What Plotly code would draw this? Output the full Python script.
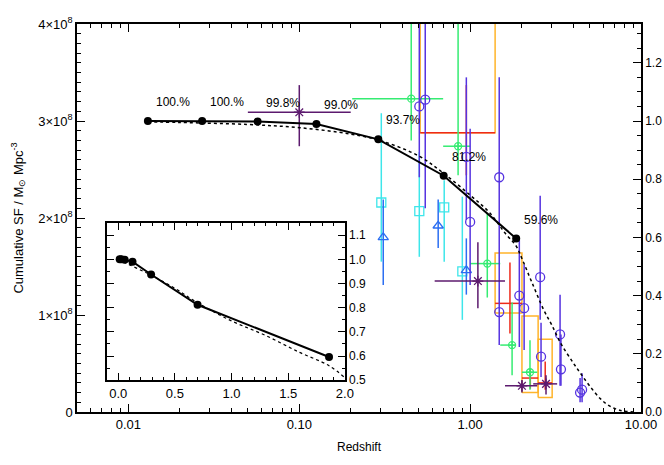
import numpy as np
import plotly.graph_objects as go

# cumulative star formation at the bin redshifts (units of 1e8 Msun / Mpc^3)
z_bin = [0.013, 0.027, 0.057, 0.126, 0.29, 0.70, 1.86]
frac_bin = [1.000, 1.000, 0.998, 0.990, 0.937, 0.812, 0.596]
pct_text = ["100.%", "100.%", "99.8%", "99.0%", "93.7%", "81.2%", "59.6%"]
sf_now = 3.0

# dotted model curve (fraction of present-day mass already formed)
model_z = [0.013, 0.02, 0.05, 0.1, 0.2, 0.3, 0.5, 0.7, 1.0, 1.3, 1.6, 1.86, 2.0,
           2.3, 2.7, 3.0, 3.4, 4.0, 4.4, 5.0, 5.8, 6.5, 7.5, 9.0]
model_frac = [0.997, 0.995, 0.988, 0.977, 0.955, 0.932, 0.88, 0.82, 0.745, 0.685, 0.615, 0.57, 0.53,
              0.445, 0.35, 0.30, 0.235, 0.17, 0.135, 0.09, 0.045, 0.022, 0.006, 0.0]
inset_model_z = [0.0, 0.013, 0.05, 0.1, 0.2, 0.3, 0.5, 0.7, 1.0, 1.3, 1.6, 1.86, 2.0]
inset_model_frac = [1.0, 0.997, 0.988, 0.977, 0.955, 0.932, 0.88, 0.82, 0.745, 0.685, 0.615, 0.56, 0.51]

# literature points: value, redshift range, value range
ast_z = [0.10, 1.11, 2.01, 2.78]
ast_v = [3.09, 1.35, 0.27, 0.29]
ast_zlo = [0.05, 0.62, 1.60, 2.34]
ast_zhi = [0.20, 1.60, 2.47, 3.23]
ast_vlo = [2.74, 1.07, 0.20, 0.18]
ast_vhi = [3.37, 1.75, 0.33, 0.38]

circ_z = [0.504, 0.546, 0.95, 1.00, 1.48, 1.48, 1.94, 2.07, 2.57, 2.60, 3.36, 3.40, 4.52, 4.40]
circ_v = [3.15, 3.22, 2.63, 1.96, 2.42, 1.03, 1.20, 1.07, 1.39, 0.57, 0.80, 0.44, 0.23, 0.20]
circ_vlo = [2.42, 2.10, 1.98, 1.31, 1.67, 0.69, 0.67, 0.64, 0.95, 0.36, 0.27, 0.27, 0.10, 0.10]
circ_vhi = [4.50, 4.50, 3.45, 2.92, 3.45, 1.67, 1.77, 1.52, 2.23, 0.92, 1.21, 0.80, 0.40, 0.35]

grn_z = [0.452, 0.85, 1.26, 1.76, 2.24]
grn_v = [3.23, 2.74, 1.53, 0.69, 0.41]
grn_zlo = [0.204, 0.695, 1.00, 1.50, 2.01]
grn_zhi = [0.695, 1.00, 1.50, 1.83, 2.47]
grn_vlo = [2.80, 2.44, 1.18, 0.38, 0.23]
grn_vhi = [4.50, 4.50, 2.05, 1.13, 0.74]

sq_z = [0.302, 0.504, 0.705, 0.90]
sq_v = [2.16, 2.07, 2.11, 1.45]
sq_vlo = [1.55, 1.60, 1.55, 0.95]
sq_vhi = [3.08, 2.68, 2.39, 2.22]

tri_z = [0.31, 0.65, 0.95]
tri_v = [1.80, 1.92, 1.46]
tri_vlo = [1.31, 1.69, 1.21]
tri_vhi = [2.19, 2.19, 1.79]

red_z = [0.95, 1.71, 2.25, 2.75]
red_v = [2.88, 1.12, 0.35, 0.30]
red_zlo = [0.51, 1.40, 2.01, 2.50]
red_zhi = [1.40, 2.01, 2.50, 3.02]
red_vlo = [2.44, 0.81, 0.24, 0.23]
red_vhi = [3.37, 1.54, 0.45, 0.52]

box_zlo = [0.51, 1.40, 2.01, 2.50]
box_zhi = [1.40, 2.01, 2.50, 3.02]
box_vlo = [2.88, 1.02, 0.20, 0.15]
box_vhi = [4.50, 1.64, 0.99, 0.75]

FONT = "Liberation Sans"


def errs(c, lo, hi):
    return dict(type="data", symmetric=False,
                array=[h - v for v, h in zip(c, hi)],
                arrayminus=[v - l for v, l in zip(c, lo)])


fig = go.Figure()

# orange boxes
bx, by = [], []
for zl, zh, vl, vh in zip(box_zlo, box_zhi, box_vlo, box_vhi):
    bx += [zl, zh, zh, zl, zl, None]
    by += [vl, vl, vh, vh, vl, None]
fig.add_trace(go.Scatter(x=bx, y=by, mode="lines", line=dict(color="#ffb42a", width=1.5)))

fig.add_trace(go.Scatter(x=red_z, y=red_v, mode="markers", marker=dict(size=1, color="#ee2a1a"),
                         error_x=dict(errs(red_z, red_zlo, red_zhi), color="#ee2a1a", thickness=1.5, width=0),
                         error_y=dict(errs(red_v, red_vlo, red_vhi), color="#ee2a1a", thickness=1.5, width=0)))

fig.add_trace(go.Scatter(x=sq_z, y=sq_v, mode="markers",
                         marker=dict(symbol="square-open", size=9, color="#3ee6ea", line=dict(width=1.3)),
                         error_y=dict(errs(sq_v, sq_vlo, sq_vhi), color="#3ee6ea", thickness=1.5, width=0)))

fig.add_trace(go.Scatter(x=tri_z, y=tri_v, mode="markers",
                         marker=dict(symbol="triangle-up-open", size=9, color="#2b6ef2", line=dict(width=1.3)),
                         error_y=dict(errs(tri_v, tri_vlo, tri_vhi), color="#2b6ef2", thickness=1.5, width=0)))

fig.add_trace(go.Scatter(x=grn_z, y=grn_v, mode="markers",
                         marker=dict(symbol="circle-cross-open", size=7, color="#35ec72", line=dict(width=1.3)),
                         error_x=dict(errs(grn_z, grn_zlo, grn_zhi), color="#35ec72", thickness=1.5, width=0),
                         error_y=dict(errs(grn_v, grn_vlo, grn_vhi), color="#35ec72", thickness=1.5, width=0)))

fig.add_trace(go.Scatter(x=circ_z, y=circ_v, mode="markers",
                         marker=dict(symbol="circle-open", size=9, color="#5533e0", line=dict(width=1.3)),
                         error_y=dict(errs(circ_v, circ_vlo, circ_vhi), color="#5533e0", thickness=1.5, width=0)))

fig.add_trace(go.Scatter(x=ast_z, y=ast_v, mode="markers",
                         marker=dict(symbol="asterisk-open", size=9, color="#5c1a6e", line=dict(width=1.3, color="#5c1a6e")),
                         error_x=dict(errs(ast_z, ast_zlo, ast_zhi), color="#5c1a6e", thickness=1.5, width=0),
                         error_y=dict(errs(ast_v, ast_vlo, ast_vhi), color="#5c1a6e", thickness=1.5, width=0)))

sf_bin = [sf_now * f for f in frac_bin]
sf_model = [sf_now * f for f in model_frac]

fig.add_trace(go.Scatter(x=model_z, y=sf_model, mode="lines",
                         line=dict(color="black", width=1.5, dash="dot", shape="spline")))
fig.add_trace(go.Scatter(x=z_bin, y=sf_bin, mode="lines+markers",
                         line=dict(color="black", width=2), marker=dict(size=8, color="black")))

# invisible trace on the right axis so it is drawn
fig.add_trace(go.Scatter(x=[z_bin[0]], y=[frac_bin[0]], yaxis="y2", mode="markers",
                         marker=dict(size=1, opacity=0), hoverinfo="skip"))

# inset
fig.add_trace(go.Scatter(x=inset_model_z, y=inset_model_frac, xaxis="x3", yaxis="y3", mode="lines",
                         line=dict(color="black", width=1.2, dash="dot", shape="spline")))
fig.add_trace(go.Scatter(x=z_bin, y=frac_bin, xaxis="x3", yaxis="y3", mode="lines+markers",
                         line=dict(color="black", width=2), marker=dict(size=8, color="black")))

for z, v, t in zip(z_bin, sf_bin, pct_text):
    fig.add_annotation(x=np.log10(z), y=v, xref="x", yref="y", text=t, showarrow=False,
                       xanchor="left", yanchor="middle", xshift=6, yshift=19,
                       font=dict(size=12, color="black", family=FONT))

tick_common = dict(ticks="inside", tickcolor="black", tickwidth=1.2, showgrid=False, zeroline=False,
                   showline=True, linecolor="black", linewidth=1.5, automargin=False)

fig.update_layout(
    width=664, height=465,
    margin=dict(l=77, r=23, t=24, b=53),
    paper_bgcolor="white", plot_bgcolor="white",
    showlegend=False,
    font=dict(family=FONT, size=12, color="black"),
    xaxis=dict(type="log", range=[np.log10(0.005), 1], tickvals=[0.01, 0.1, 1, 10],
               ticktext=["0.01", "0.10", "1.00", "10.00"], ticklen=8, mirror="ticks",
               tickfont=dict(size=13),
               minor=dict(dtick="D1", ticks="inside", ticklen=4, tickcolor="black"),
               title=dict(text="Redshift", standoff=11, font=dict(size=12)), **tick_common),
    yaxis=dict(range=[0, 4], tickvals=[0, 1, 2, 3, 4],
               ticktext=["0", "1×10<sup>8</sup>", "2×10<sup>8</sup>", "3×10<sup>8</sup>", "4×10<sup>8</sup>"],
               ticklen=8, tickfont=dict(size=13),
               minor=dict(dtick=0.1, ticks="inside", ticklen=4, tickcolor="black"),
               title=dict(text="Cumulative SF / M<sub>\u2299</sub> Mpc<sup>-3</sup>", standoff=12, font=dict(size=13)),
               **tick_common),
    yaxis2=dict(overlaying="y", side="right", anchor="x", range=[0, 4 / 3],
                tickvals=[0, 0.2, 0.4, 0.6, 0.8, 1.0, 1.2], tickformat=".1f", ticklen=8,
                tickfont=dict(size=12),
                minor=dict(dtick=0.05, ticks="inside", ticklen=4, tickcolor="black"), **tick_common),
    xaxis3=dict(domain=[0.053, 0.475], anchor="y3", range=[-0.1, 2.0], dtick=0.5, tickformat=".1f",
                ticklen=7, mirror="ticks", tickfont=dict(size=13),
                minor=dict(dtick=0.1, ticks="inside", ticklen=3, tickcolor="black"),
                **tick_common),
    yaxis3=dict(domain=[0.082, 0.487], anchor="x3", side="right", range=[0.5, 1.15], dtick=0.1,
                tickformat=".1f", ticklen=7, mirror="ticks", tickfont=dict(size=12),
                minor=dict(dtick=0.05, ticks="inside", ticklen=3, tickcolor="black"), **tick_common),
)

# drop the default page margin so the figure sits at the window corner
fig.write_html("out.html", config={"displayModeBar": False},
               post_script="document.body.style.margin='0';")
